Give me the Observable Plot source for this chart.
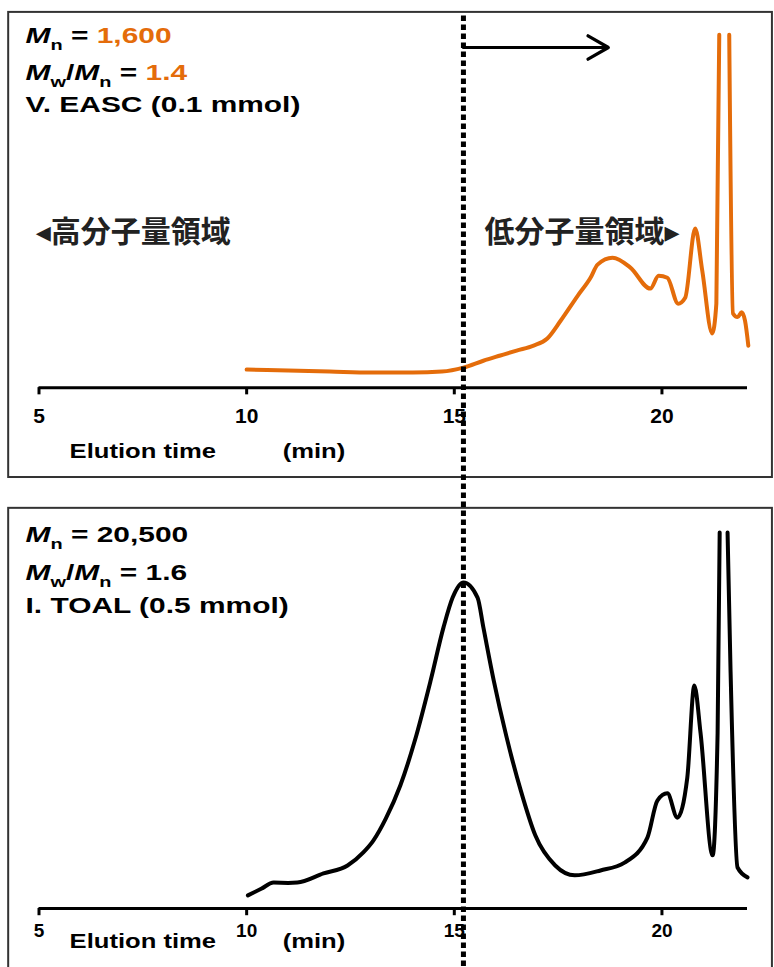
<!DOCTYPE html>
<html>
<head>
<meta charset="utf-8">
<script src="https://cdn.jsdelivr.net/npm/d3@7"></script>
<script src="https://cdn.jsdelivr.net/npm/@observablehq/plot@0.6"></script>
<style>
  html, body { margin: 0; padding: 0; background: #fff; overflow: hidden; }
  #chart svg { display: block; }
</style>
</head>
<body>
<div id="chart"></div>
<script>
// ---------------- data ----------------
// Top panel: V. EASC (0.1 mmol), orange trace; null = off-scale peak top
const orangeTime   = [10.0, 11.0, 12.0, 13.0, 14.0, 14.7, 15.22, 15.7, 16.11, 16.5, 16.91, 17.24, 17.56, 17.97, 18.28, 18.45, 18.81, 19.24, 19.72, 19.92, 20.13, 20.39, 20.56, 20.80, 20.97, 21.21, 21.31, 21.38, 21.50, 21.62, 21.71, 21.82, 21.92, 22.00, 22.08];
const orangeSignal = [5.5, 5.2, 4.9, 4.6, 4.6, 4.9, 6.1, 8.2, 9.8, 11.3, 12.8, 15.0, 20.4, 28.0, 33.5, 37.5, 39.6, 36.6, 30.2, 34.1, 33.5, 25.6, 27.4, 48.5, 35.7, 16.5, 25.6, 107.6, null, 107.6, 22.6, 21.5, 23.0, 20.4, 12.8];

// Bottom panel: I. TOAL (0.5 mmol), black trace
const blackTime   = [10.03, 10.35, 10.65, 11.0, 11.22, 11.85, 12.43, 12.81, 13.05, 13.35, 13.7, 14.05, 14.43, 14.74, 14.96, 15.22, 15.56, 15.7, 15.95, 16.25, 16.6, 16.95, 17.43, 17.9, 18.52, 19.1, 19.65, 19.89, 20.13, 20.37, 20.61, 20.78, 20.93, 21.22, 21.34, 21.39, 21.48, 21.58, 21.65, 21.82, 22.06];
const blackSignal = [4.0, 6.0, 7.9, 7.8, 7.9, 10.7, 13.1, 17.1, 20.7, 27.4, 37.5, 51.2, 69.5, 85.7, 94.8, 99.4, 94.8, 85.7, 69.5, 52.7, 36.0, 22.3, 13.1, 10.1, 11.6, 14.0, 21.6, 32.9, 35.1, 27.7, 39.9, 68.0, 53.4, 16.2, 53.4, 114.6, null, 114.6, 73.5, 12.5, 9.5];

const tickValues = [5, 10, 15, 20];
const tickLabels = ["5", "10", "15", "20"];
const axisTitle  = ["Elution time", "(min)"];
const axisTitleAt = [7.5, 11.62];
const axisEnd = 22.06;

const topNotes    = ["Mn = 1,600", "Mw/Mn = 1.4", "V. EASC (0.1 mmol)"];
const bottomNotes = ["Mn = 20,500", "Mw/Mn = 1.6", "I. TOAL (0.5 mmol)"];
const regionLabels = ["◂高分子量領域", "低分子量領域▸"];

const boundaryTime = 15.22;   // dashed divider
const arrowEndTime = 18.71;   // arrow to the right

// ---------------- layout / style ----------------
const ORANGE = "#E46C0A";
const TOP_BASE = 158.8;        // top panel baseline, in signal units
const latinFont = "'Liberation Sans', Arial, sans-serif";
const cjkFont = "'Noto Sans CJK JP', 'Noto Sans CJK SC', 'DejaVu Sans', sans-serif";

const orangeData = orangeTime.map((t, i) => ({t, v: orangeSignal[i] == null ? null : orangeSignal[i] + TOP_BASE}));
const blackData  = blackTime.map((t, i) => ({t, v: blackSignal[i]}));

const panels = [
  {x1: 4.27, x2: 22.66, y1: 131.4, y2: 273.2},
  {x1: 4.27, x2: 22.66, y1: -20.4, y2: 122.0}
];
const bases = [TOP_BASE, 0];

const ticksTop = tickValues.map((x, i) => ({x, y: TOP_BASE, label: tickLabels[i]}));
const ticksBot = tickValues.map((x, i) => ({x, y: 0, label: tickLabels[i]}));
const titlesTop = axisTitle.map((s, i) => ({x: axisTitleAt[i], y: TOP_BASE, label: s}));
const titlesBot = axisTitle.map((s, i) => ({x: axisTitleAt[i], y: 0, label: s}));

const notesX = 4.675;
const notesTop = topNotes.map((s, i) => ({x: notesX, y: [264.0, 252.7, 242.7][i], label: s}));
const notesBot = bottomNotes.map((s, i) => ({x: notesX, y: [111.6, 100.3, 90.2][i], label: s}));
const regions = [
  {x: 4.92, y: 206.1, label: regionLabels[0]},
  {x: 15.73, y: 206.1, label: regionLabels[1]}
];

const bold = {fontWeight: "bold", fontFamily: latinFont, fill: "#000"};

const chart = Plot.plot({
  width: 774,
  height: 967,
  margin: 0,
  x: {domain: [5, 20], range: [38.5, 661.45], axis: null},
  y: {domain: [0, 100], range: [908, 580], axis: null},
  marks: [
    Plot.rect(panels, {x1: "x1", x2: "x2", y1: "y1", y2: "y2", fill: "none", stroke: "#333", strokeWidth: 2}),
    // axes
    Plot.ruleY(bases, {y: d => d, x1: 5, x2: axisEnd, stroke: "#000", strokeWidth: 3}),
    Plot.ruleX(ticksTop, {x: "x", y1: d => d.y, y2: d => d.y - 2.2, stroke: "#000", strokeWidth: 3}),
    Plot.ruleX(ticksBot, {x: "x", y1: d => d.y, y2: d => d.y - 2.2, stroke: "#000", strokeWidth: 3}),
    Plot.text(ticksTop, {x: "x", y: "y", text: "label", dy: 29, fontSize: 21, ...bold}),
    Plot.text(ticksBot, {x: "x", y: "y", text: "label", dy: 22, fontSize: 19, ...bold}),
    Plot.text(titlesTop, {x: "x", y: "y", text: "label", dy: 64, fontSize: 21, ...bold}),
    Plot.text(titlesBot, {x: "x", y: "y", text: "label", dy: 33, fontSize: 21, ...bold}),
    // traces
    Plot.line(orangeData, {x: "t", y: "v", stroke: ORANGE, strokeWidth: 4, curve: "monotone-x"}),
    Plot.line(blackData, {x: "t", y: "v", stroke: "#000", strokeWidth: 4, curve: "monotone-x"}),
    // divider and arrow
    Plot.ruleX([boundaryTime], {x: d => d, y1: -20.4, y2: 273.2, stroke: "#000", strokeWidth: 5, strokeDasharray: "5.5,3.5"}),
    Plot.arrow([{x1: boundaryTime, x2: arrowEndTime, y: 262.5}], {x1: "x1", x2: "x2", y1: "y", y2: "y", stroke: "#000", strokeWidth: 3.2, headLength: 11, headAngle: 60}),
    // annotations
    Plot.text(notesTop, {x: "x", y: "y", text: "label", textAnchor: "start", lineAnchor: "bottom", fontSize: 22.5, ...bold}),
    Plot.text(notesBot, {x: "x", y: "y", text: "label", textAnchor: "start", lineAnchor: "bottom", fontSize: 22.5, ...bold}),
    Plot.text(regions, {x: "x", y: "y", text: "label", textAnchor: "start", fontSize: 30, fontWeight: "bold", fontFamily: cjkFont, fill: "#222"})
  ]
});

document.getElementById("chart").appendChild(chart);

// ---- rich text: italic M, subscripts, coloured values; horizontal stretch ----
const NS = "http://www.w3.org/2000/svg";
const coloured = new Set(topNotes.slice(0, 2));
function richify(el) {
  const s = el.textContent;
  if (!/M[nw]/.test(s)) return;
  const segs = [];
  let rest = s, val = null;
  if (coloured.has(s)) { const k = s.lastIndexOf("= "); val = s.slice(k + 2); rest = s.slice(0, k + 2); }
  rest.split(/(M[nw])/).forEach(p => {
    if (!p) return;
    if (/^M[nw]$/.test(p)) { segs.push({t: "M", it: true}); segs.push({t: p[1], sub: true}); }
    else segs.push({t: p});
  });
  if (val) segs.push({t: val, col: ORANGE});
  el.textContent = "";
  let shift = 0;
  segs.forEach(g => {
    const ts = document.createElementNS(NS, "tspan");
    ts.textContent = g.t;
    if (g.it) ts.setAttribute("font-style", "italic");
    if (g.sub) { ts.setAttribute("font-size", 15); ts.setAttribute("dy", 7 - shift); shift = 7; }
    else if (shift) { ts.setAttribute("dy", -shift); shift = 0; }
    if (g.col) ts.setAttribute("fill", g.col);
    el.appendChild(ts);
  });
}
chart.querySelectorAll("text").forEach(el => {
  const s = el.textContent;
  if (/[\u3040-\u9fff]/.test(s)) return;
  richify(el);
  let k = 1.33;
  if (tickLabels.includes(s)) k = 1.0;
  else if (axisTitle.includes(s)) k = 1.22;
  const tr = el.getAttribute("transform") || "";
  el.setAttribute("transform", tr + ` scale(${k},1)`);
});
</script>
</body>
</html>
